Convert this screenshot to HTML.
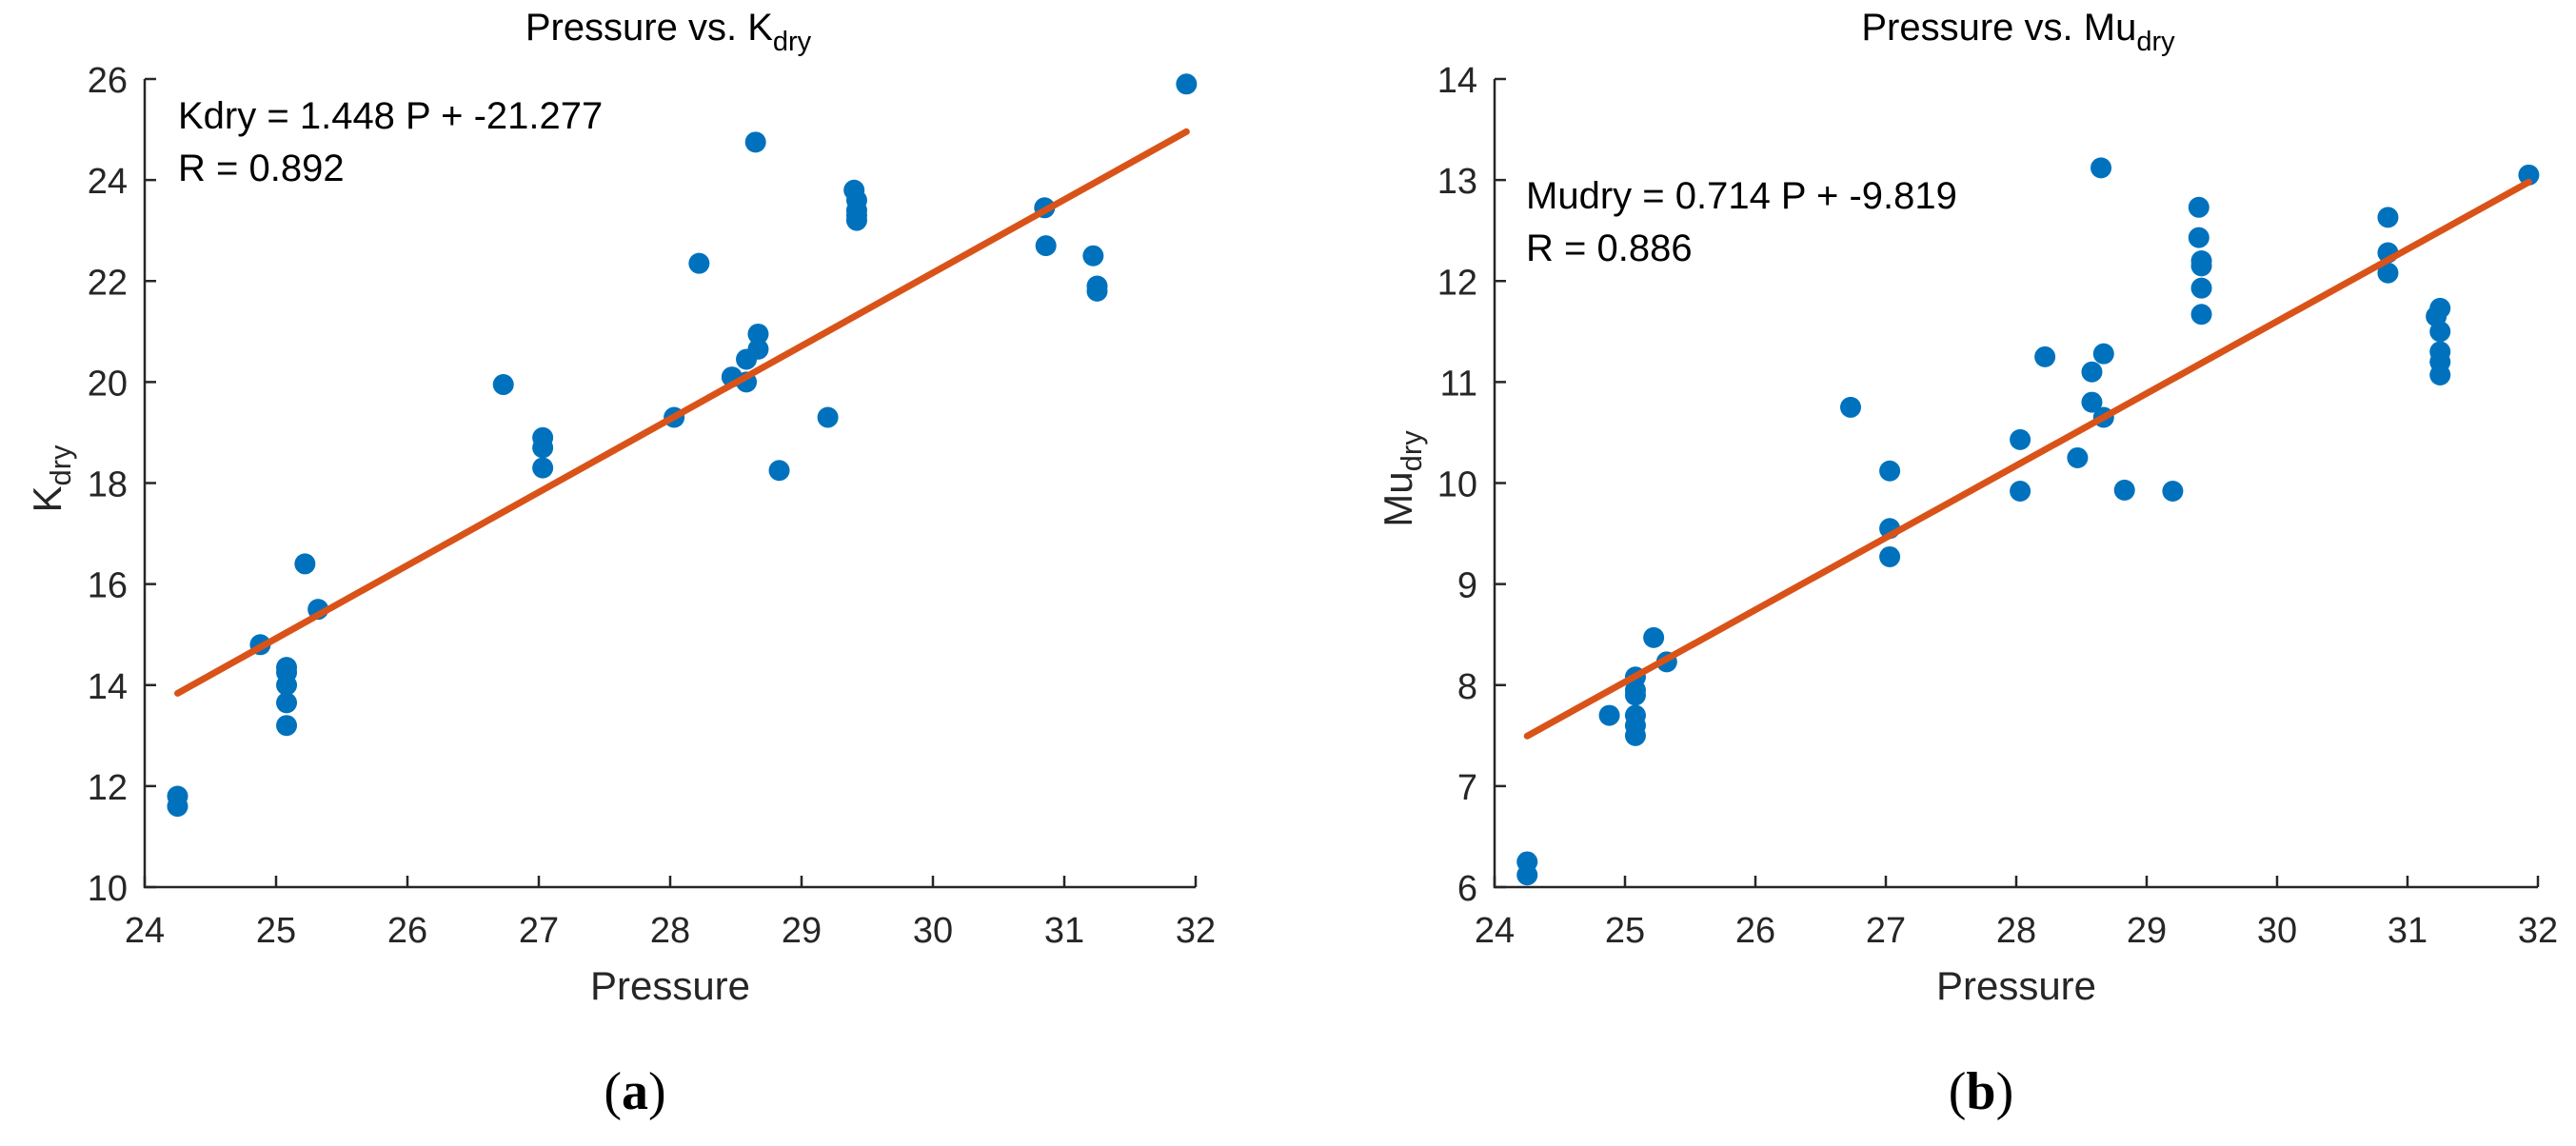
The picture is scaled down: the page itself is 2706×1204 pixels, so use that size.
<!DOCTYPE html>
<html><head><meta charset="utf-8"><style>
html,body{margin:0;padding:0;background:#fff;}
svg{display:block;font-family:"Liberation Sans",Arial,sans-serif;}
</style></head><body>
<svg id="fig" width="2706" height="1204" viewBox="0 0 2706 1204" xmlns="http://www.w3.org/2000/svg">
<rect width="2706" height="1204" fill="#fff"/>
</svg>
<script>
const xTicks=[24,25,26,27,28,29,30,31,32];
const yTicksA=[10,12,14,16,18,20,22,24,26];
const yTicksB=[6,7,8,9,10,11,12,13,14];
const pressureA=[24.25,24.25,24.88,25.08,25.08,25.08,25.08,25.08,25.22,25.32,26.73,27.03,27.03,27.03,28.03,28.22,28.47,28.58,28.58,28.65,28.67,28.67,28.83,29.2,29.4,29.42,29.42,29.42,29.42,30.85,30.86,31.22,31.25,31.25,31.93];
const kdry=[11.8,11.6,14.8,14.35,14.25,14.0,13.65,13.2,16.4,15.5,19.95,18.9,18.7,18.3,19.3,22.35,20.1,20.45,20.0,24.75,20.95,20.65,18.25,19.3,23.8,23.6,23.4,23.3,23.2,23.45,22.7,22.5,21.9,21.8,25.9];
const pressureB=[24.25,24.25,24.88,25.08,25.08,25.08,25.08,25.08,25.08,25.22,25.32,26.73,27.03,27.03,27.03,28.03,28.03,28.22,28.47,28.58,28.58,28.65,28.67,28.67,28.83,29.2,29.4,29.4,29.42,29.42,29.42,29.42,30.85,30.85,30.85,31.22,31.25,31.25,31.25,31.25,31.25,31.93];
const mudry=[6.25,6.12,7.7,8.08,7.95,7.9,7.7,7.6,7.5,8.47,8.23,10.75,10.12,9.55,9.27,10.43,9.92,11.25,10.25,11.1,10.8,13.12,11.28,10.65,9.93,9.92,12.73,12.43,12.2,12.15,11.93,11.67,12.63,12.28,12.08,11.65,11.73,11.5,11.3,11.2,11.07,13.05];
const fitA=[1.448,-21.277], fitB=[0.714,-9.819];
const fitRange=[24.25,31.93];

const NS="http://www.w3.org/2000/svg";
const svg=document.getElementById('fig');
function mk(tag,attrs,parent){const e=document.createElementNS(NS,tag);for(const k in attrs)e.setAttribute(k,attrs[k]);(parent||svg).appendChild(e);return e;}

function panel(cfg){
  const g=mk('g',{});
  
  
  const X0=cfg.x0,X1=cfg.x1,Y0=83,Y1=932;
  const ymin=cfg.yt[0],ymax=cfg.yt[cfg.yt.length-1];
  const sx=v=>X0+(v-24)/(32-24)*(X1-X0);
  const sy=v=>Y1-(v-ymin)/(ymax-ymin)*(Y1-Y0);
  const ax=mk('path',{d:`M${X0},${Y0}V${Y1}H${X1}`,stroke:'#262626','stroke-width':2.5,fill:'none'},g);
  
  
  xTicks.forEach(t=>{
    const x=sx(t);
    const tk=mk('line',{x1:x,x2:x,y1:Y1,y2:Y1-12,stroke:'#262626','stroke-width':2.5},g);
    
    
    const tl=mk('text',{x:x,y:990,'font-size':38,'text-anchor':'middle',fill:'#262626'},g);
    tl.textContent=t;
    
    
  });
  cfg.yt.forEach(t=>{
    const y=sy(t);
    const tk=mk('line',{x1:X0,x2:X0+12,y1:y,y2:y,stroke:'#262626','stroke-width':2.5},g);
    
    
    const tl=mk('text',{x:X0-18,y:y+14,'font-size':38,'text-anchor':'end',fill:'#262626'},g);
    tl.textContent=t;
    
    
  });
  cfg.px.forEach((p,i)=>{
    const c=mk('circle',{cx:sx(p),cy:sy(cfg.py[i]),r:11,fill:'#0072BD'},g);
    
    
  });
  const f=v=>cfg.fit[0]*v+cfg.fit[1];
  const ln=mk('line',{x1:sx(fitRange[0]),y1:sy(f(fitRange[0])),x2:sx(fitRange[1]),y2:sy(f(fitRange[1])),stroke:'#D95319','stroke-width':7,'stroke-linecap':'round'},g);
  
  
  const tt=mk('text',{x:cfg.tx,y:42,'font-size':40,'text-anchor':'middle',fill:'#000'},g);
  tt.innerHTML=`Pressure vs. ${cfg.sym}<tspan font-size="29" dy="11">dry</tspan>`;
  
  
  const a1=mk('text',{x:cfg.ax,y:cfg.ay,'font-size':40,fill:'#000'},g);
  a1.textContent=cfg.eq;
  
  
  const a2=mk('text',{x:cfg.ax,y:cfg.ay+55,'font-size':40,fill:'#000'},g);
  a2.textContent=cfg.r;
  
  
  const xl=mk('text',{x:(X0+X1)/2,y:1050,'font-size':42,'text-anchor':'middle',fill:'#262626'},g);
  xl.textContent='Pressure';
  
  
  const yl=mk('text',{x:0,y:0,'font-size':42,'text-anchor':'middle',fill:'#262626',transform:`translate(${cfg.ylx},503) rotate(-90)`},g);
  yl.innerHTML=`${cfg.sym}<tspan font-size="31" dy="10">dry</tspan>`;
  
  
  const cp=mk('text',{x:cfg.cx,y:1165,'font-size':56,'text-anchor':'middle',fill:'#000','font-family':'"Liberation Serif",serif'},g);
  cp.innerHTML=`(<tspan font-weight="bold">${cfg.cap}</tspan>)`;
  
  
}
panel({name:'panel-a-kdry',x0:152,x1:1256,yt:yTicksA,px:pressureA,py:kdry,fit:fitA,sym:'K',tx:702,eq:'Kdry = 1.448 P + -21.277',r:'R = 0.892',ax:187,ay:135,ylx:64,cx:667,cap:'a'});
panel({name:'panel-b-mudry',x0:1570,x1:2666,yt:yTicksB,px:pressureB,py:mudry,fit:fitB,sym:'Mu',tx:2120,eq:'Mudry = 0.714 P + -9.819',r:'R = 0.886',ax:1603,ay:219,ylx:1483,cx:2081,cap:'b'});
</script>
</body></html>
